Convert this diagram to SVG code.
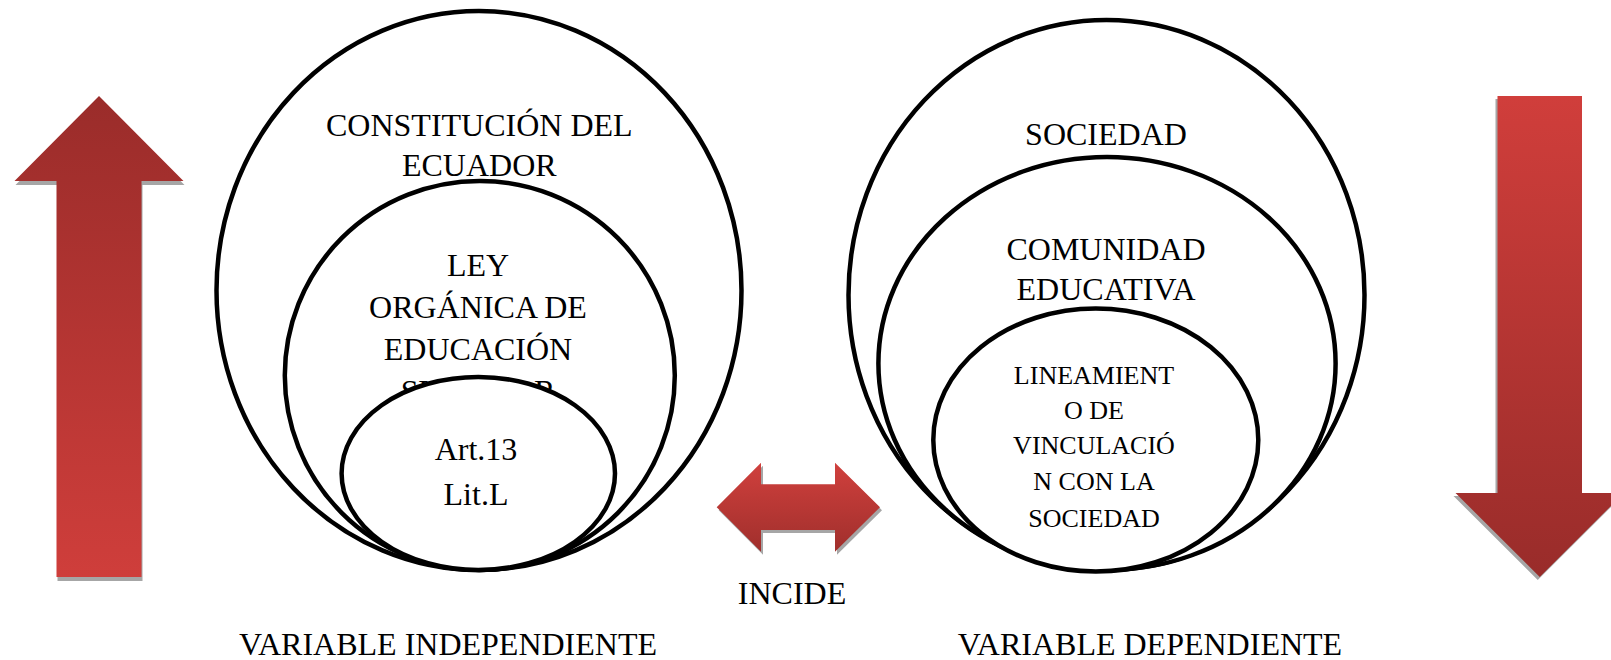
<svg xmlns="http://www.w3.org/2000/svg" width="1611" height="660" viewBox="0 0 1611 660">
  <defs>
    <linearGradient id="gUp" x1="0" y1="0" x2="0" y2="1">
      <stop offset="0" stop-color="#9a2c2a"/>
      <stop offset="1" stop-color="#cf3e3b"/>
    </linearGradient>
    <linearGradient id="gDown" x1="0" y1="0" x2="0" y2="1">
      <stop offset="0" stop-color="#d03e3b"/>
      <stop offset="1" stop-color="#992c2a"/>
    </linearGradient>
    <linearGradient id="gBoth" x1="0" y1="0" x2="0" y2="1">
      <stop offset="0" stop-color="#d0403d"/>
      <stop offset="1" stop-color="#a02f2c"/>
    </linearGradient>
  </defs>
  <style>
    .ring { fill: #ffffff; stroke: #000000; stroke-width: 4.5; }
    .lbl { font-family: "Liberation Serif", "Times New Roman", serif; font-size: 32px; fill: #000000; text-anchor: middle; }
    .sm { font-size: 26px; }
    .shadow { fill: #a6a6a6; }
  </style>

  <rect x="0" y="0" width="1611" height="660" fill="#ffffff"/>

  <g id="arrow-up">
    <polygon class="shadow" transform="translate(1,4)" points="99,96 183.5,181 141.5,181 141.5,577 56.5,577 56.5,181 14.5,181"/>
    <polygon fill="url(#gUp)" points="99,96 183.5,181 141.5,181 141.5,577 56.5,577 56.5,181 14.5,181"/>
  </g>

  <g id="arrow-down">
    <polygon class="shadow" transform="translate(-2,3)" points="1497.5,96 1582,96 1582,493 1624,493 1539.75,577 1455.5,493 1497.5,493"/>
    <polygon fill="url(#gDown)" points="1497.5,96 1582,96 1582,493 1624,493 1539.75,577 1455.5,493 1497.5,493"/>
  </g>

  <g id="node-constitucion">
    <ellipse class="ring" cx="479" cy="290.5" rx="262.5" ry="279.5"/>
    <text class="lbl" x="479.3" y="136">CONSTITUCIÓN DEL</text>
    <text class="lbl" x="479.3" y="176">ECUADOR</text>
  </g>

  <g id="node-ley">
    <ellipse class="ring" cx="479.8" cy="375.5" rx="195" ry="194.5"/>
    <text class="lbl" x="478" y="275.5">LEY</text>
    <text class="lbl" x="478" y="317.5">ORGÁNICA DE</text>
    <text class="lbl" x="478" y="359.5">EDUCACIÓN</text>
    <text class="lbl" x="478" y="402">SUPERIOR</text>
  </g>

  <g id="node-art13">
    <ellipse class="ring" cx="478.3" cy="473.5" rx="136.7" ry="96.5"/>
    <text class="lbl" x="476" y="460">Art.13</text>
    <text class="lbl" x="476" y="505">Lit.L</text>
  </g>

  <g id="node-sociedad">
    <ellipse class="ring" cx="1106.5" cy="295" rx="258" ry="275"/>
    <text class="lbl" x="1106" y="145">SOCIEDAD</text>
  </g>

  <g id="node-comunidad">
    <ellipse class="ring" cx="1107" cy="363.5" rx="228.6" ry="206.5"/>
    <text class="lbl" x="1106" y="260">COMUNIDAD</text>
    <text class="lbl" x="1106" y="300">EDUCATIVA</text>
  </g>

  <g id="node-lineamiento">
    <ellipse class="ring" cx="1095.8" cy="440" rx="162.5" ry="131.5"/>
    <text class="lbl sm" x="1094" y="383.5">LINEAMIENT</text>
    <text class="lbl sm" x="1094" y="418.5">O DE</text>
    <text class="lbl sm" x="1094" y="454">VINCULACIÓ</text>
    <text class="lbl sm" x="1094" y="490">N CON LA</text>
    <text class="lbl sm" x="1094" y="526.5">SOCIEDAD</text>
  </g>

  <g id="connectors">
    <polygon class="shadow" transform="translate(2,3)" points="716.7,507.2 761,462.7 761,484.3 835,484.3 835,462.7 880,507.2 835,551.7 835,530 761,530 761,551.7"/>
    <polygon fill="url(#gBoth)" points="716.7,507.2 761,462.7 761,484.3 835,484.3 835,462.7 880,507.2 835,551.7 835,530 761,530 761,551.7"/>
    <text class="lbl" x="792" y="604">INCIDE</text>
  </g>

  <g id="captions">
    <text class="lbl" x="448" y="654.5">VARIABLE INDEPENDIENTE</text>
    <text class="lbl" x="1150" y="654.5">VARIABLE DEPENDIENTE</text>
  </g>
</svg>
